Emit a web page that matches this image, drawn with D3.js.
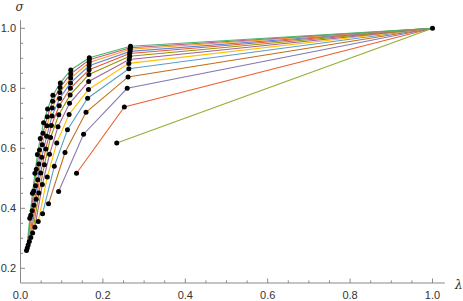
<!DOCTYPE html>
<html><head><meta charset="utf-8">
<script src="https://cdn.jsdelivr.net/npm/d3@7"></script>
<style>html,body{margin:0;padding:0;background:#fff;}svg{display:block;}</style>
</head><body>
<script>
// λ values per series (series 3..15), last point at λ = 1
const lambdaValues = [
  [0.2336, 1],
  [0.136, 0.252, 1],
  [0.0925, 0.153, 0.259, 1],
  [0.068, 0.108, 0.159, 0.261, 1],
  [0.0535, 0.082, 0.114, 0.163, 0.263, 1],
  [0.043, 0.065, 0.088, 0.118, 0.165, 0.263, 1],
  [0.035, 0.053, 0.0705, 0.091, 0.119, 0.1655, 0.264, 1],
  [0.0295, 0.0445, 0.058, 0.073, 0.093, 0.1205, 0.166, 0.265, 1],
  [0.025, 0.038, 0.049, 0.0615, 0.075, 0.094, 0.121, 0.1665, 0.265, 1],
  [0.0215, 0.0325, 0.042, 0.0515, 0.0635, 0.0765, 0.095, 0.1215, 0.1665, 0.266, 1],
  [0.0187, 0.0283, 0.0365, 0.0445, 0.053, 0.064, 0.077, 0.0955, 0.1218, 0.1668, 0.266, 1],
  [0.0165, 0.025, 0.032, 0.0385, 0.046, 0.0545, 0.065, 0.078, 0.096, 0.122, 0.167, 0.2665, 1],
  [0.0146, 0.0225, 0.029, 0.035, 0.041, 0.048, 0.056, 0.0657, 0.0786, 0.0966, 0.122, 0.167, 0.267, 1]
];
// σ values per series
const sigmaValues = [
  [0.618, 1],
  [0.517, 0.738, 1],
  [0.456, 0.647, 0.800, 1],
  [0.415, 0.586, 0.720, 0.838, 1],
  [0.382, 0.540, 0.662, 0.767, 0.865, 1],
  [0.356, 0.504, 0.618, 0.713, 0.796, 0.883, 1],
  [0.337, 0.479, 0.580, 0.672, 0.750, 0.823, 0.896, 1],
  [0.318, 0.451, 0.545, 0.636, 0.712, 0.778, 0.846, 0.907, 1],
  [0.303, 0.430, 0.518, 0.598, 0.676, 0.742, 0.800, 0.862, 0.916, 1],
  [0.289, 0.410, 0.495, 0.570, 0.640, 0.708, 0.766, 0.818, 0.875, 0.923, 1],
  [0.278, 0.392, 0.475, 0.548, 0.612, 0.675, 0.734, 0.786, 0.834, 0.886, 0.930, 1],
  [0.268, 0.377, 0.458, 0.530, 0.594, 0.650, 0.705, 0.757, 0.803, 0.848, 0.895, 0.935, 1],
  [0.259, 0.367, 0.450, 0.517, 0.579, 0.633, 0.685, 0.731, 0.777, 0.818, 0.861, 0.902, 0.940, 1]
];
const seriesColors = ["#8FB032","#EB6235","#8778B3","#C56E1A","#5D9EC7","#FFBF00","#A5609D",
  "#929600","#E95536","#6685D9","#F89F13","#BC5B80","#47B66D"];
const xTickLabels = ["0.0","0.2","0.4","0.6","0.8","1.0"];
const yTickLabels = ["0.2","0.4","0.6","0.8","1.0"];

const W = 463, H = 301;
const svg = d3.select("body").append("svg").attr("width", W).attr("height", H);

const x = d3.scaleLinear().domain([0, 1]).range([20.5, 432.5]);
const y = d3.scaleLinear().domain([0.2, 1]).range([268.3, 28.3]);
const xMin = 0, xMax = 1.03, yMin = 0.151, yMax = 1.027;

const axisColor = "#8a8a8a";
const labelColor = "#333";
const font = "'Liberation Sans', Arial, sans-serif";

const ax = svg.append("g");
ax.append("line").attr("x1", x(xMin)).attr("x2", x(xMax)).attr("y1", y(yMin)).attr("y2", y(yMin))
  .attr("stroke", axisColor).attr("stroke-width", 1);
ax.append("line").attr("x1", x(xMin)).attr("x2", x(xMin)).attr("y1", y(yMin)).attr("y2", y(yMax))
  .attr("stroke", axisColor).attr("stroke-width", 1);

const xMinor = d3.range(0.05, 1.0001, 0.05);
xMinor.forEach(v => {
  const major = Math.abs(v * 5 - Math.round(v * 5)) < 1e-6;
  ax.append("line").attr("x1", x(v)).attr("x2", x(v))
    .attr("y1", y(yMin)).attr("y2", y(yMin) - (major ? 4.5 : 2.6))
    .attr("stroke", axisColor).attr("stroke-width", 1);
});
xTickLabels.forEach(t => {
  ax.append("text").attr("x", x(+t)).attr("y", 298.5).attr("text-anchor", "middle")
    .attr("font-family", font).attr("font-size", 11).attr("fill", labelColor).text(t);
});
const yMinor = d3.range(0.2, 1.0001, 0.05);
yMinor.forEach(v => {
  const major = Math.abs(v * 5 - Math.round(v * 5)) < 1e-6;
  ax.append("line").attr("x1", x(xMin)).attr("x2", x(xMin) + (major ? 4.5 : 2.6))
    .attr("y1", y(v)).attr("y2", y(v))
    .attr("stroke", axisColor).attr("stroke-width", 1);
});
yTickLabels.forEach(t => {
  ax.append("text").attr("x", 16).attr("y", y(+t) + 4).attr("text-anchor", "end")
    .attr("font-family", font).attr("font-size", 11).attr("fill", labelColor).text(t);
});
svg.append("text").attr("x", 19.5).attr("y", 11).attr("text-anchor", "middle")
  .attr("font-family", "'DejaVu Serif', 'Liberation Serif', serif").attr("font-style", "italic")
  .attr("font-size", 12).attr("fill", labelColor).text("σ");
svg.append("text").attr("x", 455).attr("y", 288.5)
  .attr("font-family", "'DejaVu Serif', 'Liberation Serif', serif").attr("font-style", "italic")
  .attr("font-size", 12).attr("fill", labelColor).text("λ");

const series = lambdaValues.map((lams, i) => lams.map((l, j) => [l, sigmaValues[i][j]]));
const line = d3.line().x(d => x(d[0])).y(d => y(d[1]));
const lg = svg.append("g");
series.forEach((pts, i) => {
  lg.append("path").attr("d", line(pts)).attr("fill", "none")
    .attr("stroke", seriesColors[i]).attr("stroke-width", 1.1);
});
// unique points (shared end point drawn once)
const seen = new Set();
const allPts = [];
series.forEach(pts => pts.forEach(p => {
  const k = p[0] + "," + p[1];
  if (!seen.has(k)) { seen.add(k); allPts.push(p); }
}));
svg.append("g").selectAll("circle").data(allPts).join("circle")
  .attr("cx", d => x(d[0])).attr("cy", d => y(d[1])).attr("r", 2.5).attr("fill", "#000");
</script>
</body></html>
